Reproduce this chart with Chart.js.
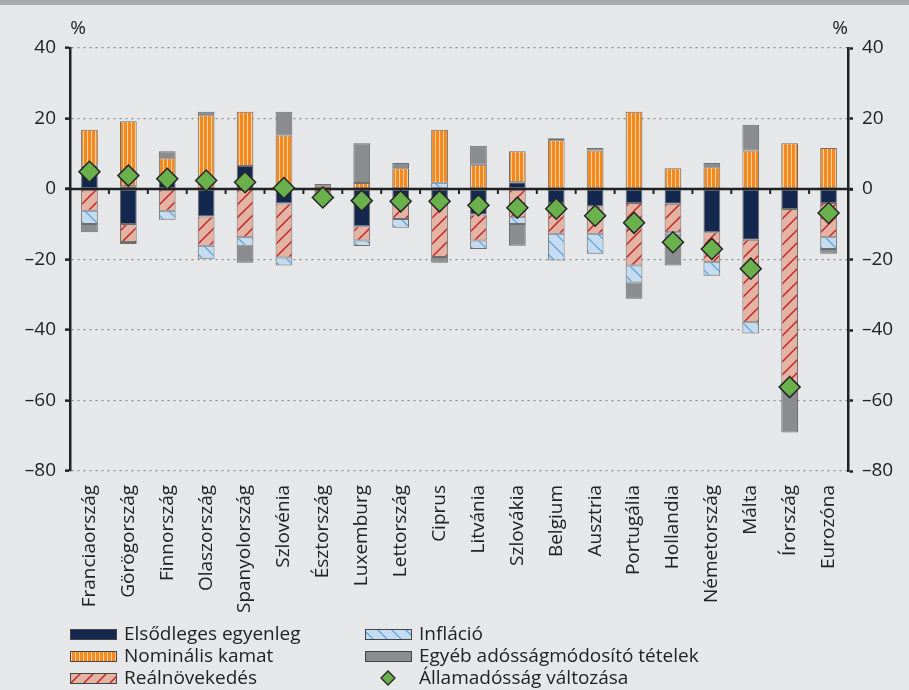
<!DOCTYPE html>
<html>
<head>
<meta charset="utf-8">
<script src="https://cdn.jsdelivr.net/npm/chart.js@4"></script>
<style>
  html, body { margin: 0; padding: 0; background: #e6e7e8; }
  #wrap { width: 909px; height: 690px; }
</style>
</head>
<body>
<div id="wrap"><canvas id="debtChart" width="909" height="690"></canvas></div>
<script>
const categories = ['Franciaország', 'Görögország', 'Finnország', 'Olaszország', 'Spanyolország', 'Szlovénia',
  'Észtország', 'Luxemburg', 'Lettország', 'Ciprus', 'Litvánia', 'Szlovákia', 'Belgium', 'Ausztria',
  'Portugália', 'Hollandia', 'Németország', 'Málta', 'Írország', 'Eurozóna'];

// percentage points
const primaryBalance  = [6.7, -9.9, 2.3, -7.8, 6.5, -4.1, null, -10.6, -4.3, -3.0, -7.2, 1.9, -4.0, -4.9, -4.0, -4.2, -12.3, -14.4, -5.7, -4.0];
const nominalInterest = [10.1, 18.4, 6.4, 20.9, 15.4, 15.2, 0.9, 1.7, 5.9, 15.0, 6.9, 8.8, 13.8, 10.9, 21.9, 5.9, 6.2, 10.9, 13.0, 11.6];
const realGrowth      = [-6.2, -5.1, -6.2, -8.3, -13.7, -15.3, -1.6, -4.0, -4.2, -16.3, -7.4, -8.0, -8.7, -7.8, -17.7, -8.1, -8.5, -23.4, -50.7, -9.7];
const inflation       = [-3.7, 0.8, -2.5, -3.7, -2.4, -2.3, null, -1.6, -2.5, 1.8, -2.4, -1.9, -7.6, -5.7, -4.8, -0.8, -3.8, -3.2, null, -3.3];
const otherItems      = [-2.4, -0.6, 2.0, 1.0, -4.8, 6.7, 0.5, 11.3, 1.5, -1.6, 5.4, -6.2, 0.6, 0.7, -4.6, -8.6, 1.2, 7.3, -12.7, -1.4];
const debtChange      = [4.9, 3.8, 2.9, 2.4, 1.9, 0.3, -2.4, -3.3, -3.5, -3.5, -4.6, -5.3, -5.6, -7.6, -9.6, -15.1, -17.0, -22.6, -56.2, -6.8];

const yMin = -80, yMax = 40, yStep = 20;

const FONT = '"Open Sans", "Noto Sans", sans-serif';
const INK = '#222222';

function makePattern(size, bg, draw) {
  const c = document.createElement('canvas');
  c.width = size; c.height = size;
  const g = c.getContext('2d');
  g.fillStyle = bg;
  g.fillRect(0, 0, size, size);
  draw(g, size);
  return g.createPattern(c, 'repeat');
}

const ctx = document.getElementById('debtChart').getContext('2d');

const navyFill = '#14284f';
const greyFill = '#8b8c90';
const orangeFill = makePattern(4, '#f5891e', (g) => {
  g.fillStyle = '#fcd0a2';
  g.fillRect(3, 0, 1, 4);
});
const redHatch = makePattern(13, '#e3b4a3', (g, s) => {
  g.strokeStyle = '#c4262d';
  g.lineWidth = 1.5;
  g.beginPath();
  g.moveTo(-2, s + 2); g.lineTo(s + 2, -2);
  g.moveTo(-2, 2); g.lineTo(2, -2);
  g.moveTo(s - 2, s + 2); g.lineTo(s + 2, s - 2);
  g.stroke();
});
const blueHatch = makePattern(14, '#c5dcf0', (g, s) => {
  g.strokeStyle = '#62a5da';
  g.lineWidth = 1.3;
  g.beginPath();
  g.moveTo(-2, -2); g.lineTo(s + 2, s + 2);
  g.moveTo(s - 2, -2); g.lineTo(s + 2, 2);
  g.moveTo(-2, s - 2); g.lineTo(2, s + 2);
  g.stroke();
});

const barStyle = {
  type: 'bar',
  borderColor: 'rgba(70,70,70,0.75)',
  borderWidth: 1,
  borderSkipped: false,
  barPercentage: 0.43,
  categoryPercentage: 1
};

const legendItems = [
  { text: 'Elsődleges egyenleg', fill: navyFill, col: 0, row: 0 },
  { text: 'Nominális kamat', fill: orangeFill, col: 0, row: 1 },
  { text: 'Reálnövekedés', fill: redHatch, col: 0, row: 2 },
  { text: 'Infláció', fill: blueHatch, col: 1, row: 0 },
  { text: 'Egyéb adósságmódosító tételek', fill: greyFill, col: 1, row: 1 },
  { text: 'Államadósság változása', diamond: true, col: 1, row: 2 }
];

const decorPlugin = {
  id: 'decor',
  beforeDraw(chart) {
    const c = chart.ctx;
    c.save();
    c.fillStyle = '#e6e7e8';
    c.fillRect(0, 0, chart.width, chart.height);
    c.fillStyle = '#a7a9ac';
    c.fillRect(0, 0, chart.width, 5);
    c.restore();
  },
  beforeDatasetDraw(chart, args) {
    if (args.meta.type !== 'line') return;
    // zero line and category ticks, over the bars but under the diamonds
    const c = chart.ctx;
    const xs = chart.scales.x;
    const y0 = chart.scales.y.getPixelForValue(0);
    c.save();
    c.strokeStyle = INK;
    c.lineWidth = 2.5;
    c.beginPath();
    c.moveTo(chart.chartArea.left - 5, y0);
    c.lineTo(chart.chartArea.right + 5, y0);
    c.stroke();
    c.lineWidth = 2;
    c.beginPath();
    for (let i = 1; i < categories.length; i++) {
      const xb = (xs.getPixelForValue(i - 1) + xs.getPixelForValue(i)) / 2;
      c.moveTo(xb, y0);
      c.lineTo(xb, y0 + 5);
    }
    c.stroke();
    c.restore();
  },
  afterDraw(chart) {
    const c = chart.ctx;
    const area = chart.chartArea;
    c.save();
    c.fillStyle = INK;
    c.font = '19px ' + FONT;
    c.textAlign = 'center';
    c.textBaseline = 'middle';
    c.fillText('%', area.left + 8, 29);
    c.fillText('%', area.right - 8, 29);

    // legend, two columns
    const colX = [70, 365];
    const rowY = [634, 656, 678];
    c.textAlign = 'left';
    legendItems.forEach(it => {
      const x = colX[it.col], y = rowY[it.row];
      if (it.diamond) {
        const r = 7, cx = x + 23;
        c.beginPath();
        c.moveTo(cx, y - r); c.lineTo(cx + r, y); c.lineTo(cx, y + r); c.lineTo(cx - r, y);
        c.closePath();
        c.fillStyle = '#6ab04c';
        c.fill();
        c.lineWidth = 1.3;
        c.strokeStyle = INK;
        c.stroke();
      } else {
        c.fillStyle = it.fill;
        c.fillRect(x, y - 5, 47, 11);
        c.lineWidth = 1;
        c.strokeStyle = '#444';
        c.strokeRect(x + 0.5, y - 4.5, 46, 10);
      }
      c.fillStyle = INK;
      c.fillText(it.text, x + 54, y + 1);
    });
    c.restore();
  }
};

const yTickFont = { family: FONT, size: 19 };
const fmt = (v) => (v < 0 ? '\u2013' + Math.abs(v) : String(v));

new Chart(ctx, {
  data: {
    labels: categories,
    datasets: [
      { ...barStyle, label: 'Elsődleges egyenleg', data: primaryBalance, backgroundColor: navyFill },
      { ...barStyle, label: 'Reálnövekedés', data: realGrowth, backgroundColor: redHatch },
      { ...barStyle, label: 'Infláció', data: inflation, backgroundColor: blueHatch },
      { ...barStyle, label: 'Nominális kamat', data: nominalInterest, backgroundColor: orangeFill },
      { ...barStyle, label: 'Egyéb adósságmódosító tételek', data: otherItems, backgroundColor: greyFill },
      {
        type: 'line',
        label: 'Államadósság változása',
        data: debtChange,
        showLine: false,
        order: -1,
        pointStyle: 'rectRot',
        pointRadius: 10.5,
        pointBackgroundColor: '#6ab04c',
        pointBorderColor: '#262626',
        pointBorderWidth: 1.5
      }
    ]
  },
  options: {
    responsive: false,
    animation: false,
    layout: { padding: { top: 48, left: 0, right: 0, bottom: 0 } },
    scales: {
      x: {
        stacked: true,
        grid: { display: false, drawTicks: false },
        border: { display: false },
        ticks: {
          autoSkip: false,
          maxRotation: 90,
          minRotation: 90,
          padding: 14,
          color: INK,
          font: { family: FONT, size: 19 }
        },
        afterFit: (s) => { s.height = 219; }
      },
      y: {
        stacked: true,
        min: yMin,
        max: yMax,
        ticks: { stepSize: yStep, padding: 9, color: INK, font: yTickFont, callback: fmt },
        grid: {
          color: (c) => (c.tick.value === 0 ? 'rgba(0,0,0,0)' : '#8e8e8e'),
          lineWidth: 1.3,
          tickLength: 5,
          tickColor: INK,
          tickWidth: 2.5,
          tickBorderDash: []
        },
        border: { display: true, color: INK, width: 2.5, dash: [2, 4] },
        afterFit: (s) => { s.width = 70; }
      },
      y2: {
        position: 'right',
        min: yMin,
        max: yMax,
        ticks: { stepSize: yStep, padding: 9, color: INK, font: yTickFont, callback: fmt },
        grid: {
          drawOnChartArea: false,
          tickLength: 5,
          tickColor: INK,
          tickWidth: 2.5
        },
        border: { display: true, color: INK, width: 2.5 },
        afterFit: (s) => { s.width = 61; }
      }
    },
    plugins: {
      legend: { display: false },
      tooltip: { enabled: false }
    }
  },
  plugins: [decorPlugin]
});
</script>
</body>
</html>
